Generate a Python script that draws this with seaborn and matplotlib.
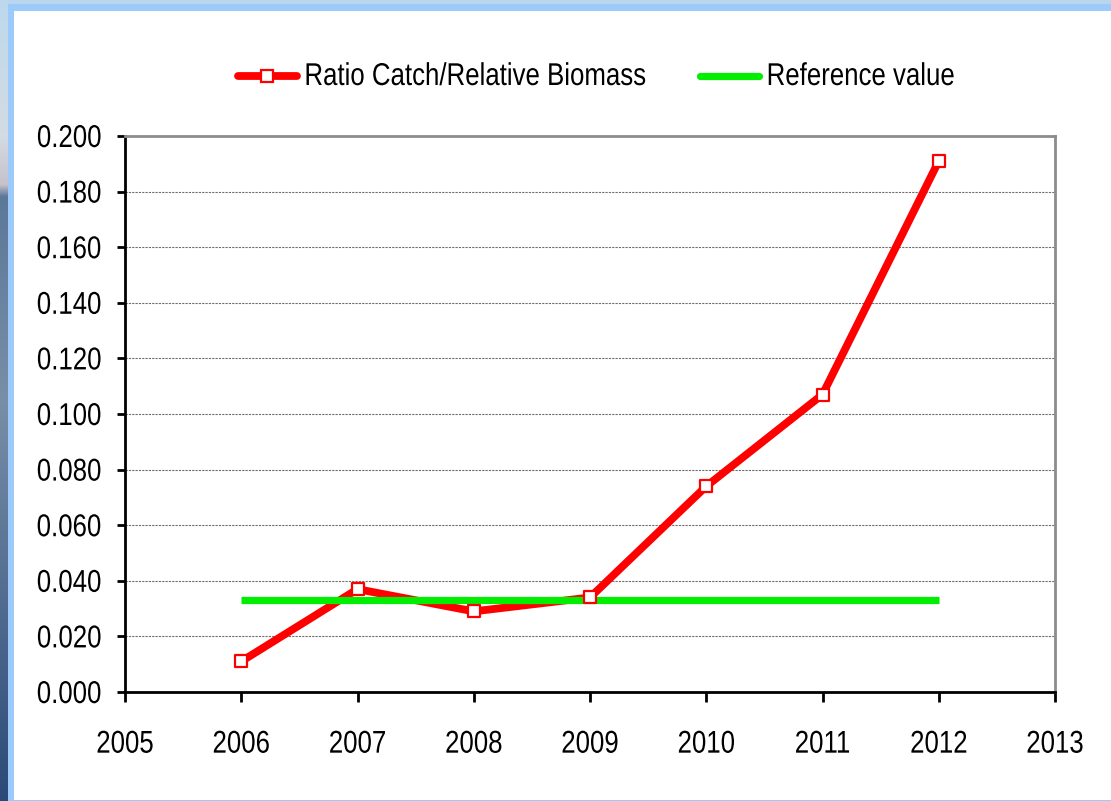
import numpy as np
import pandas as pd
import matplotlib
matplotlib.use("Agg")
import matplotlib.pyplot as plt
from matplotlib.lines import Line2D
from matplotlib.patches import Rectangle
from matplotlib.patheffects import AbstractPathEffect
from matplotlib.transforms import Affine2D
import seaborn as sns

# Data
years = [2006, 2007, 2008, 2009, 2010, 2011, 2012]
ratio_catch_biomass = [0.011, 0.037, 0.029, 0.034, 0.074, 0.107, 0.191]
reference_value = [0.033, 0.033, 0.033, 0.033, 0.033, 0.033, 0.033]
x_ticks = [2005, 2006, 2007, 2008, 2009, 2010, 2011, 2012, 2013]
y_ticks = [0.000, 0.020, 0.040, 0.060, 0.080, 0.100, 0.120, 0.140, 0.160, 0.180, 0.200]

df = pd.DataFrame({"year": years, "ratio": ratio_catch_biomass, "ref": reference_value})

sns.set_style("white")
plt.rcParams["font.family"] = ["Liberation Sans", "DejaVu Sans"]
plt.rcParams["text.color"] = "black"
plt.rcParams["xtick.color"] = "black"
plt.rcParams["ytick.color"] = "black"


class TallGlyphs(AbstractPathEffect):
    """Stretch glyphs vertically about their baseline."""

    def __init__(self, sy):
        super().__init__()
        self.sy = sy

    def draw_path(self, renderer, gc, tpath, affine, rgbFace=None):
        renderer.draw_path(gc, tpath, Affine2D().scale(1.0, self.sy) + affine, rgbFace)


FS = 18.6
tall = [TallGlyphs(1.22)]

W, H = 1111, 801
fig = plt.figure(figsize=(W / 100, H / 100), dpi=100)
fig.patch.set_facecolor("white")

# Slide backdrop: sky/sea strip on the left, light-blue frame, white panel
bg = fig.add_axes([0, 0, 1, 1], zorder=-10)
bg.set_xlim(0, W)
bg.set_ylim(H, 0)
bg.axis("off")
rows = np.linspace(0, 1, H)
stops = [0.0, 0.17, 0.23, 0.245, 0.5, 1.0]
cols = np.array([
    [0.74, 0.85, 0.93],
    [0.83, 0.86, 0.89],
    [0.78, 0.76, 0.80],
    [0.36, 0.47, 0.60],
    [0.47, 0.56, 0.66],
    [0.17, 0.29, 0.47],
])
grad = np.stack([np.interp(rows, stops, cols[:, k]) for k in range(3)], axis=-1)
grad = np.repeat(grad[:, None, :], 2, axis=1)
bg.imshow(grad, extent=(0, 8, H, 0), aspect="auto", interpolation="bilinear")
bg.add_patch(Rectangle((8, 0), W - 8, 4, color="#b9d6ec", lw=0))
bg.add_patch(Rectangle((8, 4), W - 8, H - 4, color="#9ccbfb", lw=0))
bg.add_patch(Rectangle((14, 11), W - 14, H - 12, color="white", lw=0))

ax = fig.add_axes([125 / W, 1 - 692 / H, (1055 - 125) / W, (692 - 136) / H])
ax.set_facecolor("none")

red = "#ff0000"
green = "#00ee00"

sns.lineplot(data=df, x="year", y="ratio", ax=ax, color=red, lw=5.6,
             solid_joinstyle="miter", zorder=3, legend=False)
sns.lineplot(data=df, x="year", y="ref", ax=ax, color=green, lw=5.2,
             solid_capstyle="butt", zorder=4, legend=False)
sns.scatterplot(data=df, x="year", y="ratio", ax=ax, marker="s", s=76,
                facecolor="white", edgecolor=red, linewidth=1.6, zorder=5,
                legend=False)

ax.set_xlim(2005, 2013)
ax.set_ylim(0, 0.2)
ax.set_xticks(x_ticks)
ax.set_yticks(y_ticks)
ax.set_xticklabels([str(v) for v in x_ticks])
ax.set_yticklabels([f"{v:.3f}" for v in y_ticks])
ax.set_xlabel("")
ax.set_ylabel("")

ax.yaxis.grid(True, color="#6e6e6e", linestyle=(0, (2, 1)), lw=0.8)
ax.xaxis.grid(False)
ax.set_axisbelow(True)

for side in ("left", "bottom"):
    ax.spines[side].set_color("black")
    ax.spines[side].set_linewidth(2.0)
for side in ("top", "right"):
    ax.spines[side].set_visible(True)
    ax.spines[side].set_color("#8c8c8c")
    ax.spines[side].set_linewidth(2.0)

ax.tick_params(axis="y", direction="out", length=6, width=2, color="black",
               labelsize=FS, pad=11, left=True)
ax.tick_params(axis="x", direction="out", length=7, width=2, color="black",
               labelsize=FS, pad=23, bottom=True)
for lbl in ax.get_xticklabels() + ax.get_yticklabels():
    lbl.set_path_effects(tall)
for lbl in ax.get_yticklabels():
    lbl.set_verticalalignment("baseline")
    lbl.set_transform(lbl.get_transform() + Affine2D().translate(0, -11))

handles = [
    Line2D([], [], color=red, lw=5.6, marker="s", markersize=8.7,
           markerfacecolor="white", markeredgecolor=red, markeredgewidth=1.6),
    Line2D([], [], color=green, lw=5.2),
]
leg = fig.legend(handles, ["Ratio Catch/Relative Biomass", "Reference value"],
                 loc="center", bbox_to_anchor=(596.5 / W, 1 - 78 / H), ncol=2,
                 frameon=False, fontsize=FS, handlelength=2.27, handletextpad=0.3,
                 columnspacing=2.05)
for t in leg.get_texts():
    t.set_path_effects(tall)

fig.savefig("out.png", dpi=100)
